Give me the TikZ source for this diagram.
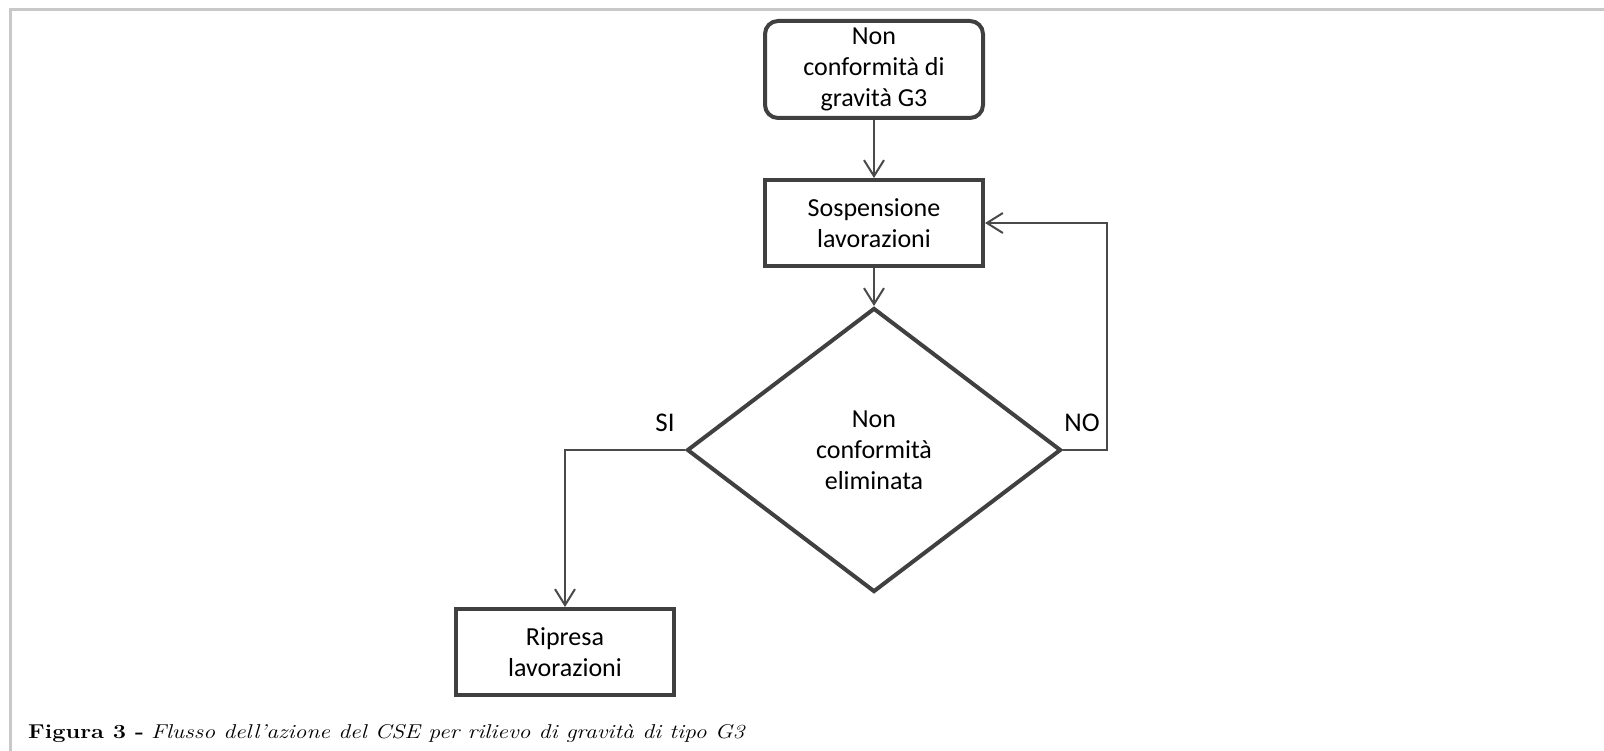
\documentclass[tikz,border=0pt]{standalone}
\usepackage{fontspec}
\setsansfont{Carlito}
\usetikzlibrary{shapes.geometric,arrows.meta}
\definecolor{boxline}{HTML}{404040}
\definecolor{arrline}{HTML}{4A4A4A}
\definecolor{framegray}{HTML}{C8C8C8}
\tikzset{
  flowtext/.style={font=\sffamily\fontsize{26}{31}\selectfont, text=black, align=center},
  roundbox/.style={flowtext, draw=boxline, line width=4pt, rounded corners=13pt, minimum width=218pt, minimum height=97pt, inner sep=0pt},
  stepbox/.style={flowtext, draw=boxline, line width=4pt, minimum width=218pt, minimum height=86pt, inner sep=0pt},
  decbox/.style={flowtext, draw=boxline, line width=4pt, diamond, minimum width=374pt, minimum height=284pt, inner sep=0pt},
  arr/.style={draw=arrline, line width=2pt, -{Straight Barb[length=16pt,width=20pt,line width=2pt]}},
  lbl/.style={font=\sffamily\fontsize{27}{31}\selectfont, text=black, inner sep=0pt}
}
\begin{document}
\begin{tikzpicture}[x=1pt,y=-1pt]
\useasboundingbox (0,0) rectangle (1604,751);
\fill[white] (0,0) rectangle (1604,751);
% frame
\draw[framegray, line width=3pt] (10.5,751) -- (10.5,9.5) -- (1604,9.5);
% nodes
\node[roundbox] (top) at (874,69.5) {Non\\conformità di\\gravità G3};
\node[stepbox] (sosp) at (874,223) {Sospensione\\lavorazioni};
\node[decbox] (dec) at (874,450) {Non\\conformità\\eliminata};
\node[stepbox] (rip) at (565,652) {Ripresa\\lavorazioni};
\coordinate (nocorner) at (1107,450);
% connectors
\draw[arr] (top) -- (sosp);
\draw[arr] (sosp) -- (dec);
\draw[arr] (dec.west) -| (rip.north);
\draw[arr] (dec.east) -- (nocorner) |- (sosp.east);
% labels
\node[lbl] (si) at (665,423) {SI};
\node[lbl] (no) at (1082,423) {NO};
% caption
\node[anchor=base west, inner sep=0pt, font=\fontsize{20}{24}\selectfont] (cap) at (28,738)
  {\scalebox{1.18}[1]{\textbf{Figura 3 -} \textit{Flusso dell’azione del CSE per rilievo di gravità di tipo G3}}};
\end{tikzpicture}
\end{document}
